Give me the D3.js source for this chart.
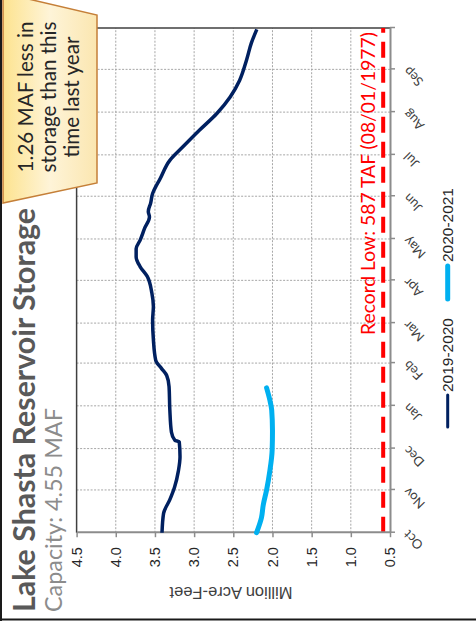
<!DOCTYPE html>
<html><head><meta charset="utf-8">
<script src="https://cdn.jsdelivr.net/npm/d3@7"></script>
<style>body{margin:0;background:#fff}svg{display:block}</style>
</head><body>
<svg id="c" width="476" height="621"></svg>
<script>
// ---------- data ----------
const months = ["Oct","Nov","Dec","Jan","Feb","Mar","Apr","May","Jun","Jul","Aug","Sep"];
const valueTicks = [0.5,1.0,1.5,2.0,2.5,3.0,3.5,4.0,4.5];
const seriesNames = ["2019-2020","2020-2021"];
const dates1920 = ["2019-10-01","2019-10-15","2019-10-25","2019-11-03","2019-11-15","2019-11-25","2019-12-06","2019-12-07","2019-12-13","2019-12-29","2020-01-15","2020-01-23","2020-01-28","2020-02-03","2020-02-18","2020-03-03","2020-03-13","2020-03-23","2020-04-04","2020-04-11","2020-04-18","2020-04-24","2020-04-30","2020-05-09","2020-05-17","2020-05-21","2020-05-27","2020-06-03","2020-06-09","2020-06-13","2020-06-27","2020-07-07","2020-07-19","2020-07-31","2020-08-12","2020-08-24","2020-09-08","2020-09-20","2020-09-30"];
const values1920 = [3.41,3.39,3.31,3.25,3.20,3.18,3.19,3.245,3.29,3.31,3.32,3.35,3.415,3.49,3.52,3.53,3.52,3.54,3.60,3.69,3.74,3.74,3.69,3.63,3.57,3.585,3.555,3.53,3.48,3.44,3.31,3.14,2.93,2.71,2.54,2.42,2.33,2.27,2.20];
const dates2021 = ["2020-10-01","2020-10-12","2020-10-21","2020-11-01","2020-11-15","2020-11-30","2020-12-14","2020-12-29","2021-01-05","2021-01-14"];
const values2021 = [2.203,2.14,2.118,2.075,2.033,2.004,2.0,2.01,2.033,2.075];
const recordLow = 0.587;
const recordLowLabel = "Record Low: 587 TAF (08/01/1977)";
const titleText = "Lake Shasta Reservoir Storage";
const subtitleText = "Capacity: 4.55 MAF";
const calloutLines = ["1.26 MAF less in","storage than this","time last year"];
const yAxisTitle = "Million Acre-Feet";

// ---------- layout (chart drawn in landscape, then rotated -90deg) ----------
const svg = d3.select("#c");
const parse = d3.timeParse("%Y-%m-%d");
const GOTHIC = "Lato, 'Open Sans', sans-serif";
const ARIAL = "'Liberation Sans', Arial, sans-serif";

const g = svg.append("g").attr("transform","translate(0,621) rotate(-90)");

const x0 = 88.3, x1 = 593, yTop = 76.6, yBot = 390;
const x = d3.scaleTime().domain([new Date(2019,9,1), new Date(2020,9,1)]).range([x0, x1]);
const y = d3.scaleLinear().domain([0.5,4.5]).range([yBot, yTop]);
const bounds = d3.timeMonth.range(new Date(2019,9,1), new Date(2020,9,2));

function fit(sel, target){
  const w = sel.node().getComputedTextLength();
  const fs = parseFloat(sel.attr("font-size"));
  sel.attr("font-size", (fs*target/w).toFixed(2));
}

// gridlines
g.append("g").selectAll("line").data(valueTicks.filter(v=>v>0.5 && v<4.5)).join("line")
  .attr("x1",x0).attr("x2",x1).attr("y1",d=>y(d)).attr("y2",d=>y(d))
  .attr("stroke","#a6a6a6").attr("stroke-width",1).attr("stroke-dasharray","2,1.5");
g.append("g").selectAll("line").data(bounds.slice(1,-1)).join("line")
  .attr("x1",d=>x(d)).attr("x2",d=>x(d)).attr("y1",yTop).attr("y2",yBot)
  .attr("stroke","#a6a6a6").attr("stroke-width",1).attr("stroke-dasharray","2,1.5");

// top/right plot border
g.append("path").attr("d",`M${x0},${yTop}H${x1}V${yBot}`).attr("fill","none")
  .attr("stroke","#404040").attr("stroke-width",1.5);

// record low line
g.append("line").attr("x1",x0).attr("x2",x1).attr("y1",y(recordLow)).attr("y2",y(recordLow))
  .attr("stroke","#ff0000").attr("stroke-width",4).attr("stroke-dasharray","16,9");

// value axis
const ya = g.append("g").attr("transform",`translate(${x0},0)`)
  .call(d3.axisLeft(y).tickValues(valueTicks).tickSize(4.5).tickSizeOuter(0).tickPadding(10).tickFormat(d3.format(".1f")));
ya.select(".domain").attr("stroke","#8c8c8c").attr("stroke-width",2);
ya.selectAll(".tick line").attr("stroke","#8c8c8c").attr("stroke-width",1.5);
ya.selectAll("text").attr("font-family",ARIAL).attr("font-size",14.5).attr("fill","#262626");

// month axis
const xa = g.append("g").attr("transform",`translate(0,${yBot})`)
  .call(d3.axisBottom(x).tickValues(bounds).tickSize(5).tickSizeOuter(0).tickFormat((d,i)=> i<months.length ? months[i] : ""));
xa.select(".domain").attr("stroke","#8c8c8c").attr("stroke-width",2);
xa.selectAll(".tick line").attr("stroke","#8c8c8c").attr("stroke-width",1.5);
xa.selectAll("text").attr("font-family",GOTHIC).attr("font-size",13).attr("fill","#404040")
  .attr("text-anchor","end").attr("x",0).attr("y",0).attr("dy",0)
  .attr("transform","translate(3,19) rotate(-45)");

// series
const line = d3.line().x(d=>x(d.date)).y(d=>y(d.v)).curve(d3.curveMonotoneX);
const s1 = dates1920.map((d,i)=>({date:parse(d), v:values1920[i]}));
const s2 = dates2021.map((d,i)=>({date:d3.timeYear.offset(parse(d),-1), v:values2021[i]}));
g.append("path").datum(s1).attr("d",line).attr("fill","none").attr("stroke","#002060")
  .attr("stroke-width",3.5).attr("stroke-linejoin","round");
g.append("path").datum(s2).attr("d",line).attr("fill","none").attr("stroke","#00b0f0")
  .attr("stroke-width",5).attr("stroke-linecap","round").attr("stroke-linejoin","round");

// record low label
const rl = g.append("text").attr("x",286).attr("y",375).attr("font-family",GOTHIC)
  .attr("font-size",17).attr("fill","#ff0000").text(recordLowLabel);
fit(rl,303);

// y axis title
const yt = g.append("text").attr("transform","translate(28,231) rotate(-90)").attr("text-anchor","middle")
  .attr("dy","0.35em").attr("font-family",ARIAL).attr("font-size",16).attr("fill","#404040").text(yAxisTitle);
fit(yt,123);

// legend
const legY = 447.7;
const legend = [
  {name:seriesNames[0], color:"#002060", w:3, x1:194, x2:226, tx:229},
  {name:seriesNames[1], color:"#00b0f0", w:5, x1:322, x2:355, tx:359}
];
legend.forEach(l=>{
  g.append("line").attr("x1",l.x1).attr("x2",l.x2).attr("y1",legY).attr("y2",legY)
    .attr("stroke",l.color).attr("stroke-width",l.w).attr("stroke-linecap","round");
  const t = g.append("text").attr("x",l.tx).attr("y",legY).attr("dy","0.35em")
    .attr("font-family",ARIAL).attr("font-size",15.5).attr("fill","#262626").text(l.name);
  fit(t,74);
});

// title / subtitle
const tt = g.append("text").attr("x",9).attr("y",35).attr("font-family",GOTHIC).attr("font-weight","bold")
  .attr("font-size",27).attr("fill","#595959").text(titleText);
fit(tt,404);
const st = g.append("text").attr("x",9).attr("y",62).attr("font-family",GOTHIC)
  .attr("font-size",19).attr("fill","#8c8c8c").text(subtitleText);
fit(st,204);

// frame
svg.append("line").attr("x1",1).attr("x2",1).attr("y1",0).attr("y2",621).attr("stroke","#1a1a1a").attr("stroke-width",2);
svg.append("line").attr("x1",0).attr("x2",476).attr("y1",619.5).attr("y2",619.5).attr("stroke","#1a1a1a").attr("stroke-width",2);

// callout (screen coordinates)
const defs = svg.append("defs");
const gr = defs.append("linearGradient").attr("id","cg").attr("x1","0").attr("x2","1").attr("y1","0").attr("y2","0");
gr.append("stop").attr("offset","0").attr("stop-color","#fde38f");
gr.append("stop").attr("offset","0.5").attr("stop-color","#fef4d8");
gr.append("stop").attr("offset","1").attr("stop-color","#fbe6b0");
svg.append("path").attr("d","M3,-2 L24,-2 L97,15 L97,183 L3,203 Z")
  .attr("fill","url(#cg)").attr("stroke","#c57f38").attr("stroke-width",1.5);

const cg = svg.append("g").attr("transform","translate(0,621) rotate(-90)");
const base = [33,56,79];
const ct = calloutLines.map((s,i)=> cg.append("text").attr("x",524).attr("y",base[i]).attr("text-anchor","middle")
  .attr("font-family",GOTHIC).attr("font-size",18).attr("fill","#262626").text(s));
const w2 = ct[1].node().getComputedTextLength();
ct.forEach(t=>t.attr("font-size",(18*151/w2).toFixed(2)));
</script>
</body></html>
